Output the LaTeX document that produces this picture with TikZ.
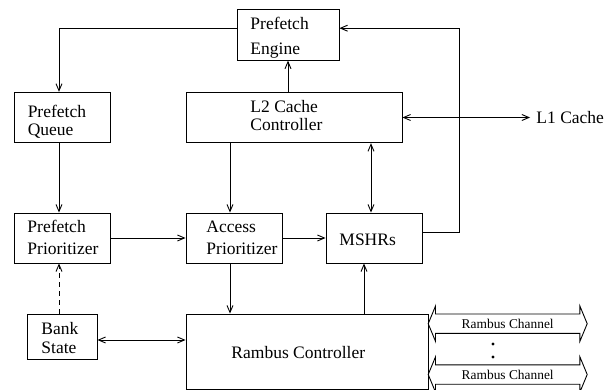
\documentclass[tikz,border=0pt]{standalone}
\usepackage{fontspec}
\setmainfont{Liberation Serif}
\usetikzlibrary{arrows.meta,shapes.arrows}

\begin{document}
\begin{tikzpicture}[x=1pt,y=-1pt,line width=.9pt,>={Straight Barb[length=7pt,width=6pt]},
    box/.style={draw,inner sep=0pt},
    txt/.style={anchor=base west,inner sep=0pt,align=left,font=\fontsize{17.5}{18.5}\selectfont},
    chan/.style={draw,double arrow,double arrow tip angle=135,double arrow head extend=8pt,
        minimum height=159pt,inner xsep=0pt,inner ysep=4.5pt,text height=9.5pt,text depth=0pt,
        font=\fontsize{13.4}{15}\selectfont}]
\useasboundingbox (0,0) rectangle (607,390);
% blocks
\node[box,minimum width=102pt,minimum height=51pt] (pe) at (288,34.7) {};
\node[box,minimum width=96pt,minimum height=50.5pt] (pq) at (62,117.5) {};
\node[box,minimum width=216pt,minimum height=50.5pt] (l2) at (294,117.5) {};
\node[box,minimum width=96pt,minimum height=50pt] (pp) at (62,238) {};
\node[box,minimum width=96pt,minimum height=50pt] (ap) at (234,238) {};
\node[box,minimum width=96pt,minimum height=50pt] (ms) at (374,238) {};
\node[box,minimum width=70pt,minimum height=45pt] (bs) at (62,336.5) {};
\node[box,minimum width=242pt,minimum height=75pt] (rc) at (307,351.5) {};
% texts (placed at the base of the last line)
\node[txt] (pe-t) at (250,54.3) {Prefetch\\[6.5pt]Engine};
\node[txt] (pq-t) at (27.3,136) {Prefetch\\Queue};
\node[txt] (l2-t) at (250,130.7) {L2 Cache\\Controller};
\node[txt] (pp-t) at (27,254) {Prefetch\\[3pt]Prioritizer};
\node[txt] (ap-t) at (206,254) {Access\\[3pt]Prioritizer};
\node[txt] (ms-t) at (339,245) {MSHRs};
\node[txt] (bs-t) at (41,353.3) {Bank\\[.5pt]State};
\node[txt] (rc-t) at (231,358.3) {Rambus Controller};
\node[txt] (l1) at (536,124) {L1 Cache};
% channels
\node[chan] (ch1) at (507.7,323.7) {Rambus Channel};
\node[chan] (ch2) at (507.7,374.5) {Rambus Channel};
\fill (493,344) circle (1.6) (493,357) circle (1.6);
% connections
\draw[->] (l2.north -| pe.south) -- (pe.south);
\draw[->] ([yshift=6.5pt]pe.west) -| ([xshift=-3pt]pq.north);
\draw[->] ([yshift=6pt]ms.east) -- ++(37,0) |- ([yshift=6.5pt]pe.east);
\draw[<->] (l2.east) -- ([xshift=-6pt]l1.west |- l2.east);
\draw[->] ([xshift=-3pt]pq.south) -- ([xshift=-3pt]pp.north);
\draw[->] ([xshift=-4pt]ap.north |- l2.south) -- ([xshift=-4pt]ap.north);
\draw[<->] ([xshift=-3pt]ms.north |- l2.south) -- ([xshift=-3pt]ms.north);
\draw[->] (pp) -- (ap);
\draw[->] (ap) -- (ms);
\draw[->] ([xshift=-4pt]ap.south) -- ([xshift=-4pt]ap.south |- rc.north);
\draw[->] ([xshift=-10pt]ms.south |- rc.north) -- ([xshift=-10pt]ms.south);
\draw[->,dash pattern=on 5pt off 4pt] ([xshift=-3pt]bs.north) -- ([xshift=-3pt]pp.south);
\draw[<->] ([yshift=-3.5pt]bs.east) -- ([yshift=-3.5pt]bs.east -| rc.west);

\end{tikzpicture}
\end{document}
